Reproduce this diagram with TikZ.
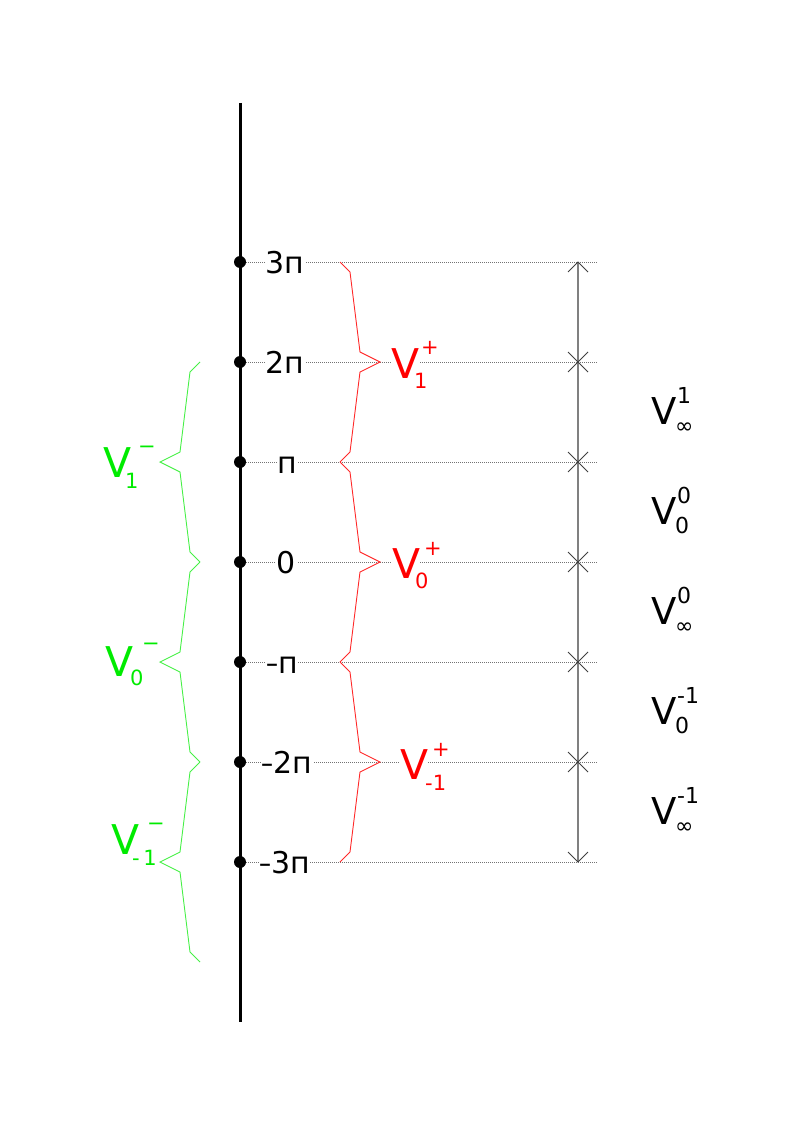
\documentclass[tikz,border=0pt]{standalone}
\usepackage{fontspec}
\setmainfont{DejaVu Sans}
\definecolor{lred}{RGB}{255,0,0}
\definecolor{braceRed}{RGB}{255,40,40}
\definecolor{lgreen}{RGB}{0,235,0}
\definecolor{braceGreen}{RGB}{70,240,70}
\newcommand{\dsh}{\scalebox{0.8}[1]{–}}
\begin{document}
\begin{tikzpicture}[x=1pt,y=-1pt,
  axislab/.style={font=\fontsize{30}{30}\selectfont, anchor=base, inner sep=0.5pt, fill=white},
  bigV/.style={font=\fontsize{41}{41}\selectfont, anchor=base west, inner sep=0pt, fill=white},
  blkV/.style={font=\fontsize{37}{37}\selectfont, anchor=base west, inner sep=0pt},
  scr/.style={font=\fontsize{21}{21}\selectfont, anchor=base west, inner sep=0pt},
  mscr/.style={font=\fontsize{21}{21}\selectfont, anchor=base west, inner sep=0pt},
  bscr/.style={font=\fontsize{22}{22}\selectfont, anchor=base west, inner sep=0pt},
  guide/.style={black!55, line width=0.5pt, dash pattern=on 1pt off 1pt},
  rbrace/.style={braceRed, line width=0.9pt},
  gbrace/.style={braceGreen, line width=0.9pt},
  tick/.style={black!75, line width=0.8pt},
  dimline/.style={black!50, line width=1.2pt},
]
\useasboundingbox (0,0) rectangle (794,1123);

% level coordinates
\foreach \i/\y in {3/262,2/362,1/462,0/562,m1/662,m2/762,m3/862}{
  \coordinate (L\i) at (240,\y);
  \coordinate (R\i) at (598,\y);
  \coordinate (A\i) at (578,\y);
}
\coordinate (axtop) at (240,103);
\coordinate (axbot) at (240,1022);

% guide lines
\foreach \i in {3,2,1,0,m1,m2,m3}{
  \draw[guide] (L\i) -- (R\i);
}

% main axis and dots
\draw[line width=3pt] (axtop) -- (axbot);
\foreach \i in {3,2,1,0,m1,m2,m3}{
  \fill (L\i) circle (6pt);
}

% axis labels
\node[axislab] (t3) at (285,273) {3п};
\node[axislab] (t2) at (285,373) {2п};
\node[axislab] (t1) at (287.5,473) {п};
\node[axislab] (t0) at (286.5,573) {0};
\node[axislab] (tm1) at (282,673) {\dsh п};
\node[axislab] (tm2) at (287,773) {\dsh 2п};
\node[axislab] (tm3) at (284.5,873) {\dsh 3п};

% red braces
\foreach \a in {262,462,662}{
  \draw[rbrace] (340,\a) -- (350,\a+10) -- (360,\a+90) -- (380,\a+100)
     -- (360,\a+110) -- (350,\a+190) -- (340,\a+200);
}
% green braces
\foreach \a in {362,562,762}{
  \draw[gbrace] (200,\a) -- (190,\a+10) -- (180,\a+90) -- (160,\a+100)
     -- (180,\a+110) -- (190,\a+190) -- (200,\a+200);
}

% dimension line
\draw[dimline] (A3) -- (Am3);
\draw[tick] (A3) ++(-10,10) -- (A3) -- ++(10,10);
\draw[tick] (Am3) ++(-10,-10) -- (Am3) -- ++(10,-10);
\foreach \i in {2,1,0,m1,m2}{
  \draw[tick] (A\i) ++(-10,-10) -- ++(20,20);
  \draw[tick] (A\i) ++(-10,10) -- ++(20,-20);
}

% red labels
\node[bigV, text=lred] (r1V) at (391,378) {V};
\node[scr, text=lred] (r1b) at (414,388) {1};
\node[scr, text=lred] (r1p) at (421,354) {+};
\node[bigV, text=lred] (r0V) at (392,578) {V};
\node[scr, text=lred] (r0b) at (415,588) {0};
\node[scr, text=lred] (r0p) at (424,555) {+};
\node[bigV, text=lred] (rmV) at (400,779) {V};
\node[scr, text=lred] (rmb) at (425,790) {-1};
\node[scr, text=lred] (rmp) at (432,756) {+};

% green labels
\node[bigV, text=lgreen] (g1V) at (103,477) {V};
\node[scr, text=lgreen] (g1b) at (125,488) {1};
\node[mscr, text=lgreen] (g1p) at (138,453) {−};
\node[bigV, text=lgreen] (g0V) at (105,676) {V};
\node[scr, text=lgreen] (g0b) at (130,685) {0};
\node[mscr, text=lgreen] (g0p) at (142,650) {−};
\node[bigV, text=lgreen] (gmV) at (111,854) {V};
\node[scr, text=lgreen] (gmb) at (132,865) {-\,1};
\node[mscr, text=lgreen] (gmp) at (147,830) {−};

% black labels
\foreach \c/\sb/\sp [count=\k] in {412/∞/1, 512/0/0, 612/∞/0, 712/0/-1, 812/∞/-1}{
  \node[blkV] (kV\k) at (651,\c+12) {V};
  \node[bscr] (kp\k) at (677,\c-9) {\sp};
  \node[bscr] (kb\k) at (675,\c+21) {\sb};
}
\end{tikzpicture}
\end{document}
